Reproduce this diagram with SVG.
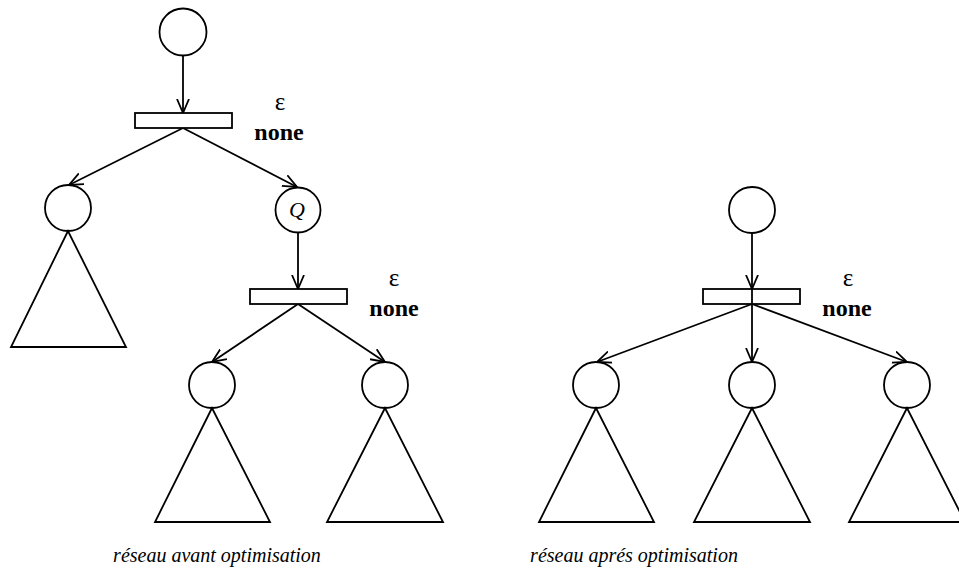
<svg xmlns="http://www.w3.org/2000/svg" width="959" height="577" viewBox="0 0 959 577">
<style>
.s{fill:none;stroke:#000;stroke-width:1.8}
.n{fill:#fff;stroke:#000;stroke-width:1.8}
.c{fill:none;stroke:#000;stroke-width:1.8;marker-end:url(#ah)}
.eps{font-family:"Liberation Serif",serif;font-size:25px;fill:#000}
.nb{font-family:"Liberation Serif",serif;font-size:24px;font-weight:bold;fill:#000}
.cap{font-family:"Liberation Serif",serif;font-size:20px;font-style:italic;fill:#000}
</style>
<defs>
<marker id="ah" markerWidth="18" markerHeight="14" refX="14" refY="7" orient="auto" markerUnits="userSpaceOnUse">
<path d="M0,1 L14,7 L0,13" fill="none" stroke="#000" stroke-width="1.8"/>
</marker>
</defs>
<g id="connectors">
<line class="c" x1="183" y1="56" x2="183" y2="113"/>
<line class="c" x1="183" y1="128" x2="69" y2="185"/>
<line class="c" x1="183" y1="128" x2="297" y2="187"/>
<line class="c" x1="298" y1="232" x2="298" y2="289"/>
<line class="c" x1="298" y1="304" x2="212" y2="362"/>
<line class="c" x1="298" y1="304" x2="385" y2="362"/>
<line class="c" x1="752" y1="233" x2="752" y2="289"/>
<line class="c" x1="752" y1="304" x2="597" y2="362"/>
<line class="c" x1="752" y1="304" x2="752" y2="362"/>
<line class="c" x1="752" y1="304" x2="907" y2="362"/>
</g>
<g id="L-root"><circle class="n" cx="183" cy="32" r="23.5"/></g>
<g id="L-op1"><rect class="n" x="135" y="113" width="97" height="15"/>
<text class="eps" x="280" y="110" text-anchor="middle">ε</text>
<text class="nb" x="279" y="140" text-anchor="middle">none</text></g>
<g id="L-left"><circle class="n" cx="68" cy="208" r="23"/>
<polygon class="s" points="68,231 11,347 126,347"/></g>
<g id="L-Q"><circle class="n" cx="298" cy="210" r="22.5"/>
<text x="297" y="217" text-anchor="middle" font-family="Liberation Serif,serif" font-style="italic" font-size="22">Q</text></g>
<g id="L-op2"><rect class="n" x="250" y="289" width="97" height="15"/>
<text class="eps" x="394" y="286" text-anchor="middle">ε</text>
<text class="nb" x="394" y="316" text-anchor="middle">none</text></g>
<g id="L-c1"><circle class="n" cx="212" cy="385" r="23"/>
<polygon class="s" points="212,408 155,522 270,522"/></g>
<g id="L-c2"><circle class="n" cx="385" cy="385" r="23"/>
<polygon class="s" points="385,408 327,522 443,522"/></g>
<g id="R-root"><circle class="n" cx="752" cy="210" r="23"/></g>
<g id="R-op"><rect class="n" x="703" y="289" width="97" height="15"/>
<line class="s" x1="752" y1="289" x2="752" y2="304"/>
<text class="eps" x="848" y="286" text-anchor="middle">ε</text>
<text class="nb" x="847" y="316" text-anchor="middle">none</text></g>
<g id="R-c1"><circle class="n" cx="596" cy="385" r="23"/>
<polygon class="s" points="596,408 539,522 654,522"/></g>
<g id="R-c2"><circle class="n" cx="752" cy="385" r="23"/>
<polygon class="s" points="752,408 694,522 810,522"/></g>
<g id="R-c3"><circle class="n" cx="907" cy="385" r="23"/>
<polygon class="s" points="907,408 849,522 965,522"/></g>
<g id="captions">
<text class="cap" x="217" y="562" text-anchor="middle">réseau avant optimisation</text>
<text class="cap" x="634" y="562" text-anchor="middle">réseau aprés optimisation</text>
</g>
</svg>
